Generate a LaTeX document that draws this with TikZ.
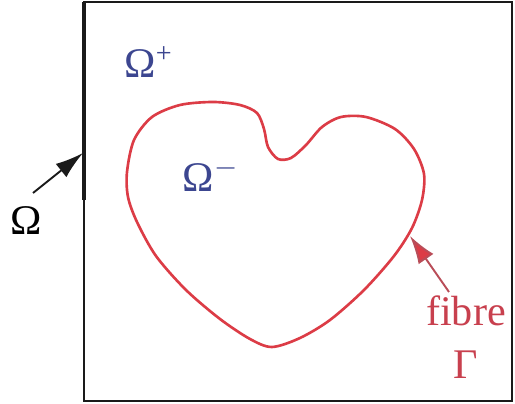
\documentclass[tikz,border=0pt]{standalone}
\usepackage{fontspec}
\setmainfont{Liberation Serif}
\usetikzlibrary{arrows.meta,positioning}
\definecolor{hrtred}{HTML}{DC3C46}
\definecolor{lblred}{HTML}{C8404E}
\definecolor{domblue}{HTML}{3C4690}
\definecolor{frame}{HTML}{1A1A1A}

\begin{document}
\begin{tikzpicture}[
        x=0.01cm, y=-0.01cm, font=\large,
        dom/.style={text=domblue, inner sep=0pt},
        lbl/.style={inner sep=0pt, align=center},
        arr/.style={-{Latex[length=2.8mm,width=1.7mm]}, line width=0.55pt}
    ]
    \useasboundingbox (0,0) rectangle (515,404);
    % domain box
    \draw[frame, line width=0.8pt] (84,2) rectangle (512,401);
    \draw[frame, line width=1.4pt] (84,2) -- (84,200);
    \coordinate (edge) at (83,153);
    \coordinate (omtail) at (33,193);
    % fibre
    \draw[hrtred, line width=0.75pt] plot[smooth cycle, tension=0.5] coordinates {
        (127,172) (134,140) (152,117) (180,105) (213,102) (240,105)
        (257,113) (264,129) (268,147) (278,159) (291,158) (306,145)
        (322,127) (341,117) (366,117) (395,129) (414,149) (424,174)
        (422,200) (412,228) (394,256) (364,290) (330,320) (300,338)
        (272,347) (250,339) (220,319) (186,290) (156,256) (137,222)
        (128,197)};
    \coordinate (onfibre) at (410,236);
    \coordinate (fibtail) at (449,292);
    % labels
    \node[lbl] (omega) at (26,221) {Ω};
    \node[dom] (omplus) at (149,62) {Ω\textsuperscript{+}};
    \node[dom] (omminus) at (211,175) {Ω\textsuperscript{$-$}};
    \node[lbl, text=lblred] (fibre) at (466,337) {fibre\\[1pt]Γ};
    \draw[arr, frame] (omtail) -- (edge);
    \draw[arr, lblred!80!gray, -{Latex[length=2.8mm,width=1.8mm,fill=hrtred]}]
        (fibtail) -- (onfibre);
\end{tikzpicture}
\end{document}
